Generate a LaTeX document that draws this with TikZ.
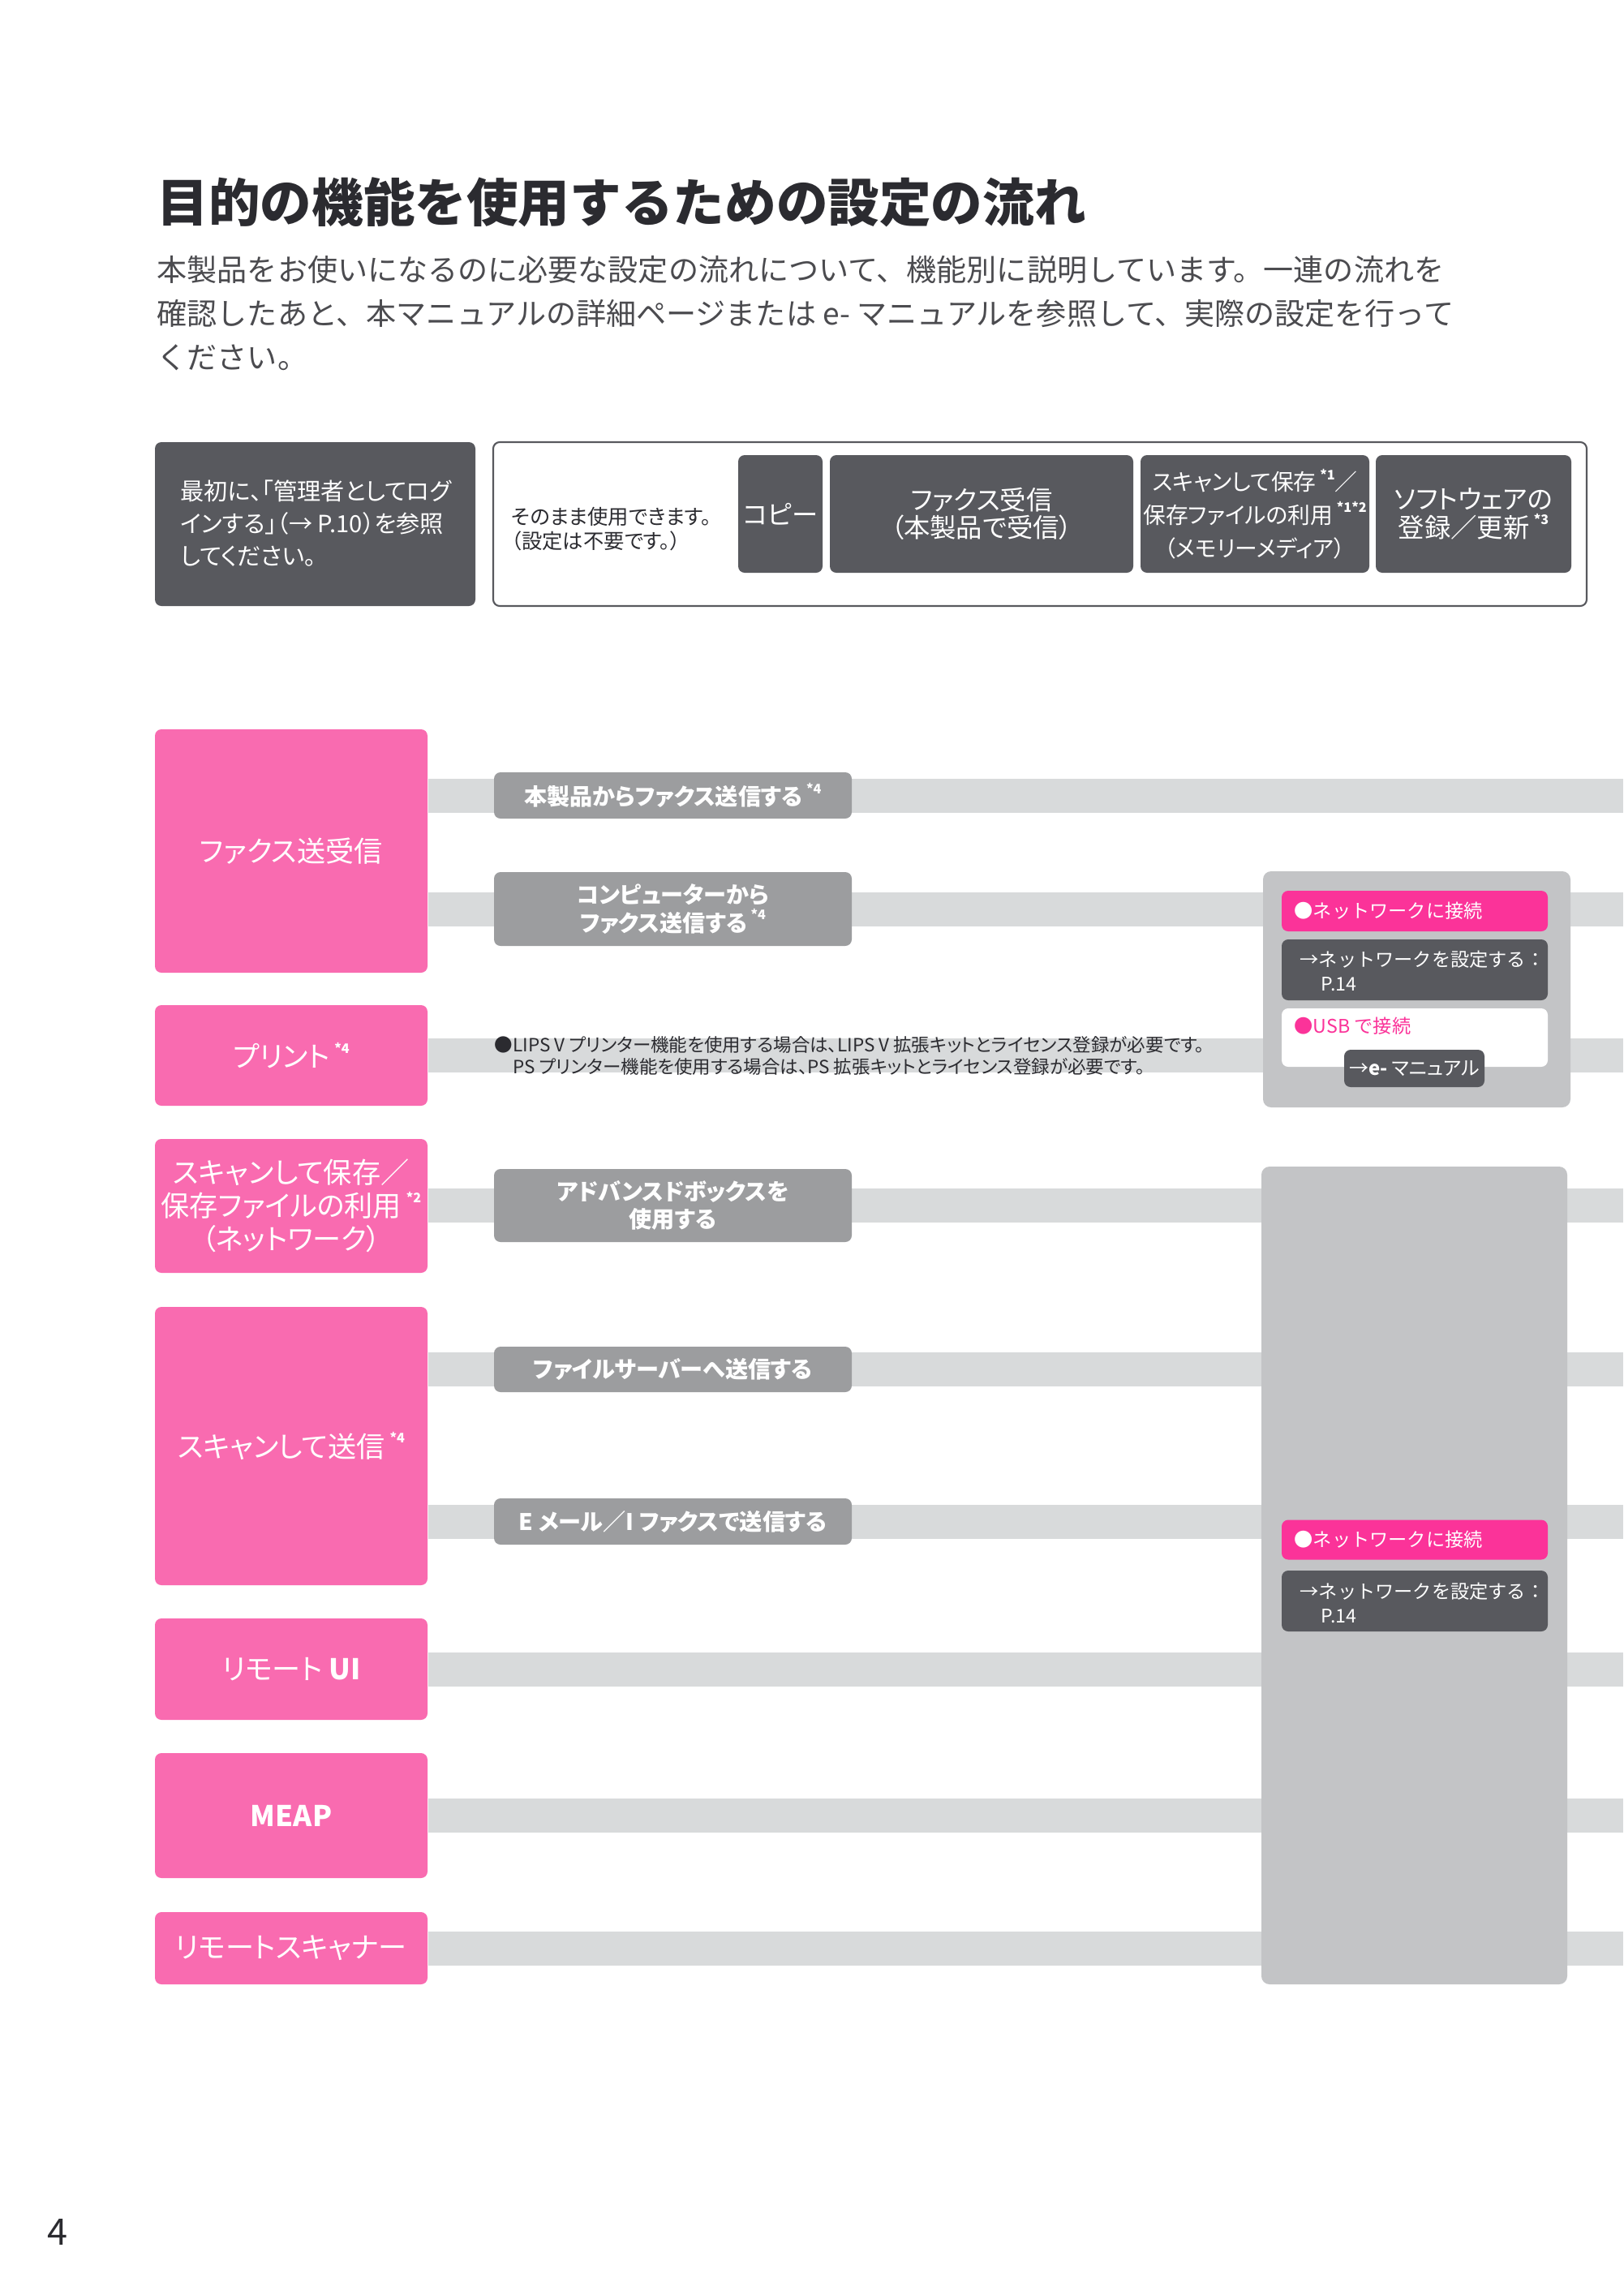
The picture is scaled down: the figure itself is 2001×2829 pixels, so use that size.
\documentclass[tikz,border=0pt]{standalone}
\usepackage{fontspec}
\setmainfont{Noto Sans CJK JP}
\newfontfamily\jp[RawFeature=+palt]{Noto Sans CJK JP}
\usetikzlibrary{backgrounds}

\definecolor{pinkA}{HTML}{F96BB0}
\definecolor{hotpink}{HTML}{FB3399}
\definecolor{darkC}{HTML}{58595E}
\definecolor{grayB}{HTML}{9C9D9F}
\definecolor{bandD}{HTML}{D8DADB}
\definecolor{panelE}{HTML}{C3C4C6}
\definecolor{inkT}{HTML}{2B2B30}

\newcommand\astx[1]{\raisebox{0.5em}{\fontsize{4.6}{5}\selectfont\bfseries #1}}

\begin{document}
\begin{tikzpicture}[x=0.1mm,y=-0.1mm,
    every node/.style={inner sep=0pt},
    pinkbox/.style={fill=pinkA, rounded corners=0.8mm, text=white, minimum width=33.6mm, align=center, font=\jp\fontsize{10}{11.6}\selectfont},
    graybox/.style={fill=grayB, rounded corners=0.8mm, text=white, minimum width=44.1mm, align=center, font=\jp\bfseries\fontsize{8}{9.7}\selectfont},
    darkbox/.style={fill=darkC, rounded corners=0.8mm, text=white, align=center, font=\jp\fontsize{9.2}{11.4}\selectfont},
    panel/.style={fill=panelE, rounded corners=1mm},
    strip/.style={rounded corners=0.8mm, minimum width=32.8mm, minimum height=5mm},
    striptext/.style={anchor=west, align=left, font=\fontsize{6.6}{8.5}\selectfont},
    band/.style={draw=bandD, line width=4.2mm}]

\useasboundingbox (0,0) rectangle (2001,2829);

% heading
\node[anchor=west, text=inkT, font=\bfseries\fontsize{18.1}{20}\selectfont] (title) at (193,249) {目的の機能を使用するための設定の流れ};
\node[anchor=west, align=left, text=inkT!85, font=\fontsize{10.55}{15.4}\selectfont] (intro) at (193,386)
  {本製品をお使いになるのに必要な設定の流れについて、機能別に説明しています。一連の流れを\\確認したあと、本マニュアルの詳細ページまたは e- マニュアルを参照して、実際の設定を行って\\ください。};

% top row
\node[darkbox, minimum width=39.5mm, minimum height=20.2mm] (login) at (388.5,646) {};
\node[anchor=west, align=left, text=white, font=\jp\fontsize{8.3}{11.4}\selectfont] (logintext) at (222,645)
  {最初に、「管理者としてログ\\インする」（→ P.10）を参照\\してください。};
\node[draw=darkC, line width=0.6pt, rounded corners=0.8mm, minimum width=134.8mm, minimum height=20.2mm] (ready) at (1282,646) {};
\node[anchor=west, align=left, text=inkT, font=\jp\fontsize{7.2}{8.7}\selectfont] (readytext) at (630,652)
  {そのまま使用できます。\\（設定は不要です。）};
\node[darkbox, minimum width=10.4mm, minimum height=14.5mm] (copy) at (962,633.5) {コピー};
\node[darkbox, minimum width=37.4mm, minimum height=14.5mm, font=\jp\fontsize{9.2}{7.9}\selectfont] (faxrecv) at (1210,633.5)
  {ファクス受信\\（本製品で受信）};
\node[darkbox, minimum width=28.2mm, minimum height=14.5mm, font=\jp\fontsize{7.9}{11.6}\selectfont] (scanmedia) at (1547,633.5)
  {スキャンして保存\,\astx{*1}／\\保存ファイルの利用\,\astx{*1*2}\\（メモリーメディア）};
\node[darkbox, minimum width=24.1mm, minimum height=14.5mm, font=\jp\fontsize{9.2}{10.2}\selectfont] (software) at (1816.5,633.5)
  {ソフトウェアの\\登録／更新\,\astx{*3}};

% functions
\node[pinkbox, minimum height=30mm] (fax) at (359,1049) {ファクス送受信};
\node[pinkbox, minimum height=12.4mm] (print) at (359,1301) {プリント\,\astx{*4}};
\node[pinkbox, minimum height=16.5mm] (scansave) at (359,1486.5) {スキャンして保存／\\保存ファイルの利用\,\astx{*2}\\（ネットワーク）};
\node[pinkbox, minimum height=34.3mm] (scansend) at (359,1782.5) {スキャンして送信\,\astx{*4}};
\node[pinkbox, minimum height=12.5mm] (rui) at (359,2057.5) {リモート \textbf{UI}};
\node[pinkbox, minimum height=15.4mm] (meap) at (359,2238) {\textbf{MEAP}};
\node[pinkbox, minimum height=8.9mm] (rscan) at (359,2401.5) {リモートスキャナー};

% tasks
\node[graybox, minimum height=5.7mm] (faxsend) at (829.5,980.5) {本製品からファクス送信する\,\astx{*4}};
\node[graybox, minimum height=9.1mm] (pcfax) at (829.5,1120.5) {コンピューターから\\ファクス送信する\,\astx{*4}};
\node[graybox, minimum height=9mm] (advbox) at (829.5,1486) {アドバンスドボックスを\\使用する};
\node[graybox, minimum height=5.6mm] (fileserver) at (829.5,1688) {ファイルサーバーへ送信する};
\node[graybox, minimum height=5.7mm] (email) at (829.5,1875.5) {E メール／I ファクスで送信する};

\node[anchor=west, align=left, text=inkT, font=\jp\fontsize{6.4}{7.7}\selectfont] (lipsnote) at (609,1301.5)
  {●LIPS V プリンター機能を使用する場合は、LIPS V 拡張キットとライセンス登録が必要です。\\\phantom{●}PS プリンター機能を使用する場合は、PS 拡張キットとライセンス登録が必要です。};

% connection panels
\node[panel, minimum width=37.9mm, minimum height=29.1mm] (conn1) at (1746.5,1219.5) {};
\node[strip, fill=hotpink] (net1) at (1744,1123) {};
\node[strip, fill=darkC, minimum height=7.5mm] (netset1) at (1744,1195.5) {};
\node[strip, fill=white, minimum height=7.2mm] (usb) at (1744,1279) {};
\node[darkbox, minimum width=17.3mm, minimum height=4.6mm, font=\jp\fontsize{6.8}{8}\selectfont] (eman) at (1743.5,1317) {→\textbf{e-} マニュアル};
\node[striptext, text=white] (net1text) at (1595,1123) {●ネットワークに接続};
\node[striptext, text=white] (netset1text) at (1602,1197) {→ネットワークを設定する：\\\hspace*{1.1em}P.14};
\node[striptext, text=hotpink] (usbtext) at (1595,1265) {●USB で接続};

\node[panel, minimum width=37.7mm, minimum height=100.8mm] (conn2) at (1743.5,1942) {};
\node[strip, fill=hotpink, minimum height=4.9mm] (net2) at (1744,1898) {};
\node[strip, fill=darkC, minimum height=7.5mm] (netset2) at (1744,1973.5) {};
\node[striptext, text=white] (net2text) at (1595,1898) {●ネットワークに接続};
\node[striptext, text=white] (netset2text) at (1602,1976) {→ネットワークを設定する：\\\hspace*{1.1em}P.14};

\node[text=inkT, font=\fontsize{12.8}{14}\selectfont] (pageno) at (71,2751) {4};

% bands behind everything
\coordinate (edge) at (2001,0);
\begin{scope}[on background layer]
  \fill[white] (0,0) rectangle (2001,2829);
  \foreach \src/\row in {fax/faxsend, fax/pcfax, print/print, scansave/advbox, scansend/fileserver, scansend/email, rui/rui, meap/meap, rscan/rscan}
    \draw[band] (\src.east |- \row) -- (edge |- \row);
\end{scope}
\end{tikzpicture}
\end{document}
